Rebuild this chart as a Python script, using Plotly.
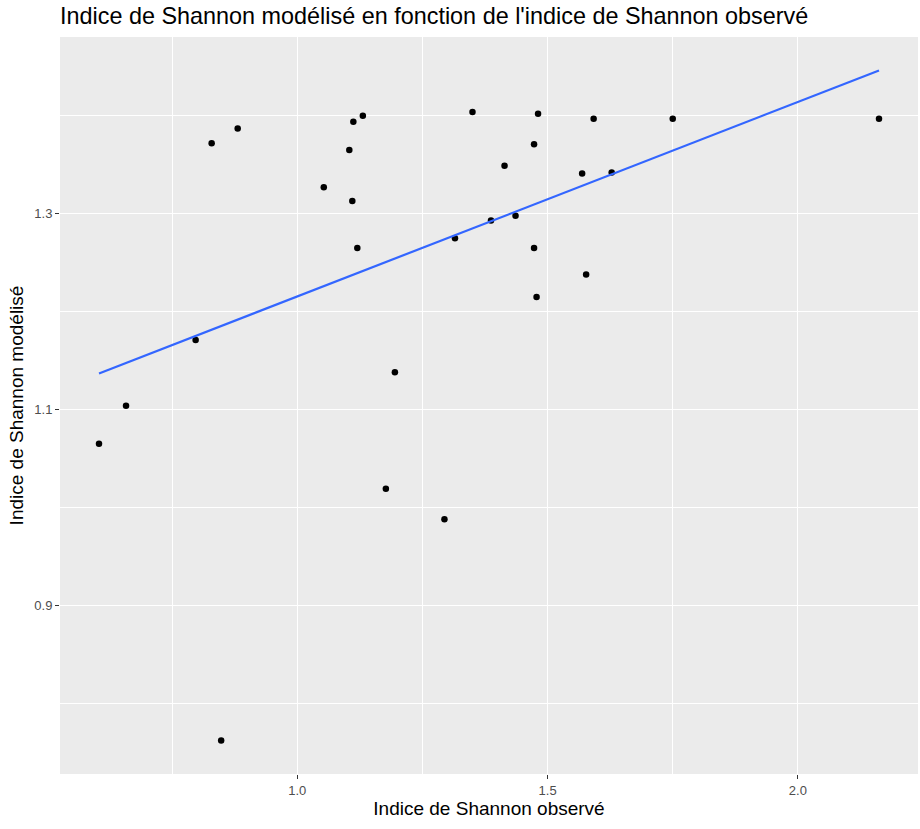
import numpy as np
import plotly.graph_objects as go

shannon_obs = [0.604, 0.658, 0.797, 0.829, 0.848, 0.881, 1.053, 1.104, 1.112, 1.131,
               1.110, 1.120, 1.177, 1.195, 1.294, 1.315, 1.350, 1.387, 1.414, 1.436,
               1.473, 1.473, 1.481, 1.478, 1.569, 1.577, 1.592, 1.628, 1.750, 2.162]
shannon_mod = [1.065, 1.104, 1.171, 1.372, 0.762, 1.387, 1.327, 1.365, 1.394, 1.400,
               1.313, 1.265, 1.019, 1.138, 0.988, 1.275, 1.404, 1.293, 1.349, 1.298,
               1.371, 1.265, 1.402, 1.215, 1.341, 1.238, 1.397, 1.342, 1.397, 1.397]

x_major = [1.0, 1.5, 2.0]
x_minor = [0.75, 1.25, 1.75]
y_major = [0.9, 1.1, 1.3]
y_minor = [0.8, 1.0, 1.2, 1.4]

xa = np.array(shannon_obs)
ya = np.array(shannon_mod)
slope, intercept = np.polyfit(xa, ya, 1)
fit_x = np.linspace(xa.min(), xa.max(), 80)
fit_y = intercept + slope * fit_x

fig = go.Figure()
fig.add_trace(go.Scatter(x=shannon_obs, y=shannon_mod, mode="markers",
                         marker=dict(color="black", size=6.5), showlegend=False))
fig.add_trace(go.Scatter(x=fit_x, y=fit_y, mode="lines",
                         line=dict(color="#3366FF", width=2.2), showlegend=False))

xr = [xa.min(), max(xa.max(), fit_x.max())]
yr = [min(ya.min(), fit_y.min()), max(ya.max(), fit_y.max())]
def expand(r):
    d = (r[1] - r[0]) * 0.05
    return [r[0] - d, r[1] + d]

FONT = "Liberation Sans, Arial"
axis_common = dict(
    showline=False, zeroline=False, ticks="outside", ticklen=4, tickwidth=1,
    tickcolor="#333333", tickfont=dict(family=FONT, size=13, color="#4D4D4D"),
    gridcolor="white", gridwidth=1.4,
)
fig.update_layout(
    width=920, height=829,
    margin=dict(l=60, r=2, t=37, b=55),
    paper_bgcolor="white", plot_bgcolor="#EBEBEB",
    title=dict(text="Indice de Shannon modélisé en fonction de l'indice de Shannon observé",
               x=60/920, xanchor="left", y=1 - 16/829, yanchor="middle",
               font=dict(family=FONT, size=23.4, color="black")),
    xaxis=dict(range=expand(xr), tickvals=x_major, ticktext=["1.0", "1.5", "2.0"],
               minor=dict(tickvals=x_minor, showgrid=True, gridcolor="white", gridwidth=0.7, ticks=""),
               title=dict(text="Indice de Shannon observé", standoff=5,
                          font=dict(family=FONT, size=19, color="black")),
               **axis_common),
    yaxis=dict(range=expand(yr), tickvals=y_major, ticktext=["0.9", "1.1", "1.3"],
               minor=dict(tickvals=y_minor, showgrid=True, gridcolor="white", gridwidth=0.7, ticks=""),
               title=dict(text="Indice de Shannon modélisé", standoff=5,
                          font=dict(family=FONT, size=19, color="black")),
               **axis_common),
)
fig.write_html("out.html")
